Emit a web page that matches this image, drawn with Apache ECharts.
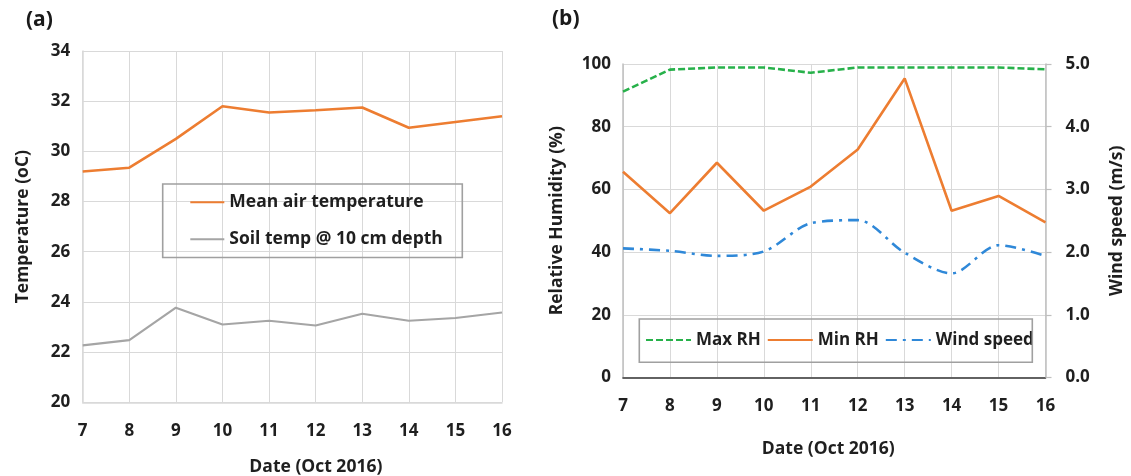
<!DOCTYPE html>
<html>
<head>
<meta charset="utf-8">
<script src="https://cdn.jsdelivr.net/npm/echarts@6/dist/echarts.min.js"></script>
<style>
html,body{margin:0;padding:0;background:#fff;}
#chart{width:1131px;height:476px;}
</style>
</head>
<body>
<div id="chart"></div>
<script>
const dates = ['7','8','9','10','11','12','13','14','15','16'];
const meanAirTemp = [29.2, 29.35, 30.5, 31.8, 31.55, 31.64, 31.75, 30.94, 31.17, 31.4];
const soilTemp10cm = [22.27, 22.48, 23.77, 23.1, 23.25, 23.06, 23.53, 23.25, 23.36, 23.58];
const maxRH = [91.2, 98.2, 98.9, 98.9, 97.2, 98.9, 98.9, 98.9, 98.9, 98.3];
const minRH = [65.6, 52.4, 68.5, 53.2, 60.9, 72.7, 95.4, 53.2, 57.9, 49.5];
const windSpeed = [2.06, 2.02, 1.94, 2.01, 2.46, 2.51, 1.99, 1.66, 2.11, 1.94];

const FONT = "'Open Sans', 'DejaVu Sans', sans-serif";
const TXT = '#1f1f1f';
const GRIDC = '#d9d9d9';

const chart = echarts.init(document.getElementById('chart'), null, {renderer: 'canvas'});

const tickLabel = {fontFamily: FONT, fontWeight: 'bold', fontSize: 17, color: TXT, lineHeight: 20};
const nameStyle = {fontFamily: FONT, fontWeight: 'bold', fontSize: 17.5, color: TXT, lineHeight: 22};

chart.setOption({
  animation: false,
  backgroundColor: '#fff',
  grid: [
    {left: 82.7, right: 629, top: 51, bottom: 73.7, outerBoundsMode: 'none', containLabel: false},
    {left: 623, right: 85.5, top: 64, bottom: 98.5, outerBoundsMode: 'none', containLabel: false}
  ],
  xAxis: [
    {
      gridIndex: 0, type: 'category', data: dates, boundaryGap: false,
      axisLine: {lineStyle: {color: GRIDC, width: 1.5}},
      axisTick: {show: false},
      axisLabel: Object.assign({margin: 19}, tickLabel),
      splitLine: {show: true, lineStyle: {color: GRIDC, width: 1}},
      name: 'Date (Oct 2016)', nameLocation: 'middle', nameGap: 54,
      nameTextStyle: Object.assign({padding: [0, 0, 0, 47]}, nameStyle)
    },
    {
      gridIndex: 1, type: 'category', data: dates, boundaryGap: false,
      axisLine: {lineStyle: {color: '#bfbfbf', width: 1.5}},
      axisTick: {show: false},
      axisLabel: Object.assign({margin: 19}, tickLabel),
      splitLine: {show: true, lineStyle: {color: GRIDC, width: 1}},
      name: 'Date (Oct 2016)', nameLocation: 'middle', nameGap: 61,
      nameTextStyle: Object.assign({padding: [0, 12, 0, 0]}, nameStyle)
    },
    {
      gridIndex: 1, type: 'category', data: dates, boundaryGap: false, position: 'top',
      axisLine: {lineStyle: {color: '#404040', width: 1.5}},
      axisTick: {show: false}, axisLabel: {show: false}, splitLine: {show: false}
    }
  ],
  yAxis: [
    {
      gridIndex: 0, type: 'value', min: 20, max: 34, interval: 2,
      axisLine: {show: true, lineStyle: {color: GRIDC, width: 1.5}},
      axisTick: {show: false},
      axisLabel: Object.assign({margin: 12.5}, tickLabel),
      splitLine: {show: true, lineStyle: {color: GRIDC, width: 1}},
      name: 'Temperature (oC)', nameLocation: 'middle', nameGap: 49,
      nameTextStyle: nameStyle
    },
    {
      gridIndex: 1, type: 'value', min: 0, max: 100, interval: 20,
      axisLine: {show: true, lineStyle: {color: '#bfbfbf', width: 1.5}},
      axisTick: {show: false},
      axisLabel: Object.assign({margin: 12}, tickLabel),
      splitLine: {show: true, lineStyle: {color: GRIDC, width: 1}},
      name: 'Relative Humidity (%)', nameLocation: 'middle', nameGap: 55,
      nameTextStyle: nameStyle
    },
    {
      gridIndex: 1, type: 'value', min: 0, max: 5, interval: 1, position: 'right',
      axisLine: {show: true, lineStyle: {color: '#bfbfbf', width: 1.5}},
      axisTick: {show: true, length: 6, lineStyle: {color: '#bfbfbf', width: 1.2}},
      axisLabel: Object.assign({margin: 20, formatter: v => v.toFixed(1)}, tickLabel),
      splitLine: {show: false},
      name: 'Wind speed (m/s)', nameLocation: 'middle', nameGap: 61,
      nameTextStyle: nameStyle
    }
  ],
  legend: [
    {
      left: 189.3, top: 191.3, orient: 'vertical', itemWidth: 34, itemHeight: 2, itemGap: 15,
      padding: 0, itemStyle: {opacity: 0},
      data: ['Mean air temperature', 'Soil temp @ 10 cm depth'],
      textStyle: {fontFamily: FONT, fontWeight: 'bold', fontSize: 17.5, color: TXT, lineHeight: 22}
    },
    {
      left: 645, top: 329, orient: 'horizontal', itemWidth: 45, itemHeight: 2, itemGap: 6,
      padding: 0, itemStyle: {opacity: 0},
      data: ['Max RH', 'Min RH', 'Wind speed'],
      textStyle: {fontFamily: FONT, fontWeight: 'bold', fontSize: 17, color: TXT, lineHeight: 22}
    }
  ],
  graphic: [
    {type: 'rect', shape: {x: 162.7, y: 184, width: 299.6, height: 73.5}, z: 5,
     style: {fill: 'rgba(255,255,255,0)', stroke: '#a0a0a0', lineWidth: 1.6}},
    {type: 'rect', shape: {x: 639.3, y: 319, width: 393, height: 43.3}, z: 5,
     style: {fill: 'rgba(255,255,255,0)', stroke: '#a0a0a0', lineWidth: 1.6}},
    {type: 'text', left: 26, top: 10, z: 10,
     style: {text: '(a)', fontFamily: FONT, fontWeight: 'bold', fontSize: 21, fill: '#1a1a1a'}},
    {type: 'text', left: 552, top: 9, z: 10,
     style: {text: '(b)', fontFamily: FONT, fontWeight: 'bold', fontSize: 21, fill: '#1a1a1a'}}
  ],
  series: [
    {
      name: 'Mean air temperature', type: 'line', xAxisIndex: 0, yAxisIndex: 0,
      data: meanAirTemp, symbol: 'none', z: 3,
      lineStyle: {color: '#ed7d31', width: 2.6}, itemStyle: {color: '#ed7d31'}
    },
    {
      name: 'Soil temp @ 10 cm depth', type: 'line', xAxisIndex: 0, yAxisIndex: 0,
      data: soilTemp10cm, symbol: 'none', z: 3,
      lineStyle: {color: '#a5a5a5', width: 2.2}, itemStyle: {color: '#a5a5a5'}
    },
    {
      name: 'Max RH', type: 'line', xAxisIndex: 1, yAxisIndex: 1,
      data: maxRH, symbol: 'none', z: 3,
      lineStyle: {color: '#27b14a', width: 2.6, type: [7, 3]}, itemStyle: {color: '#27b14a'}
    },
    {
      name: 'Min RH', type: 'line', xAxisIndex: 1, yAxisIndex: 1,
      data: minRH, symbol: 'none', z: 3,
      lineStyle: {color: '#ed7d31', width: 2.6}, itemStyle: {color: '#ed7d31'}
    },
    {
      name: 'Wind speed', type: 'line', xAxisIndex: 1, yAxisIndex: 2,
      data: windSpeed, symbol: 'none', smooth: 0.3, z: 3,
      lineStyle: {color: '#2f88d8', width: 2.6, type: [11, 6, 3, 6]}, itemStyle: {color: '#2f88d8'}
    }
  ]
});
</script>
</body>
</html>
